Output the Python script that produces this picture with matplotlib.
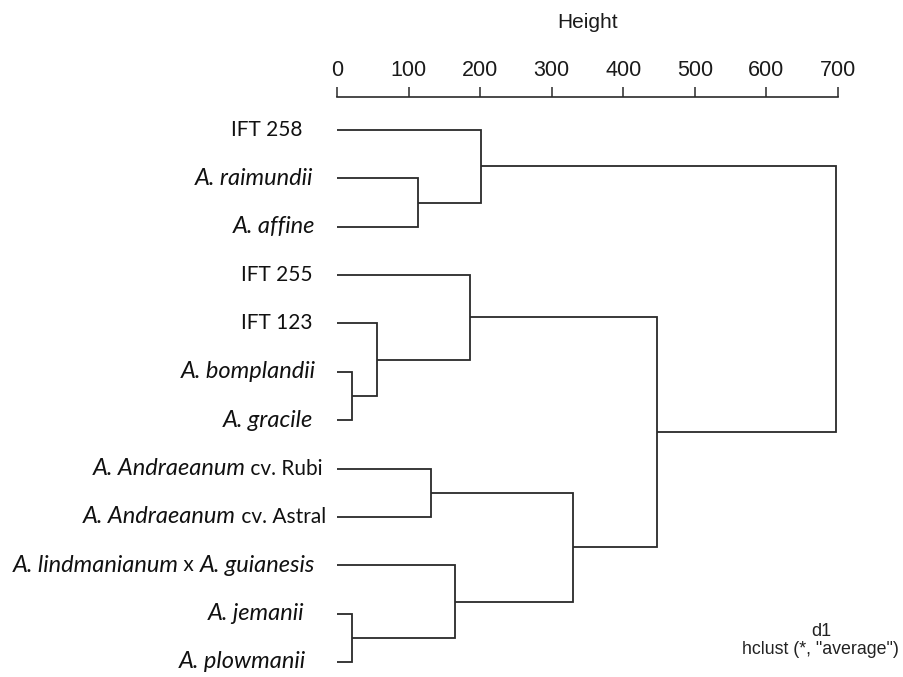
import matplotlib
matplotlib.use("Agg")
import matplotlib.pyplot as plt
from matplotlib.transforms import offset_copy

# ---- data ----
# leaf labels (top to bottom), each as list of (text, italic) segments
leaf_labels = [
    [("IFT 258", False)],
    [("A. raimundii", True)],
    [("A. affine", True)],
    [("IFT 255", False)],
    [("IFT 123", False)],
    [("A. bomplandii", True)],
    [("A. gracile", True)],
    [("A. Andraeanum", True), (" cv. Rubi", False)],
    [("A. Andraeanum", True), (" cv. Astral", False)],
    [("A. lindmanianum", True), (" x ", False), ("A. guianesis", True)],
    [("A. jemanii", True)],
    [("A. plowmanii", True)],
]
# merges: (left child, right child, height); ids >= 12 refer to earlier merges
merge_left = [1, 0, 5, 4, 3, 7, 10, 9, 17, 16, 13]
merge_right = [2, 12, 6, 14, 15, 8, 11, 18, 19, 20, 21]
merge_height = [113, 201, 21, 56, 186, 131, 21, 165, 330, 447, 697]
height_ticks = [0, 100, 200, 300, 400, 500, 600, 700]

# style: gap (px) between each label's right end and its leaf line
label_gap_px = [32, 21, 19, 21, 21, 18, 21, 11, 8, 19, 30, 28]

W, H = 904, 677
fig = plt.figure(figsize=(W / 100, H / 100), dpi=100)
ax = fig.add_axes([337 / W, 0.0, (838 - 337) / W, 1 - 97 / H])

n = len(leaf_labels)
pos = {i: (0.0, float(i)) for i in range(n)}  # node -> (height, y)
lc = "#2a2a2a"
lw = 1.3
for k, (a, b, h) in enumerate(zip(merge_left, merge_right, merge_height)):
    ha_, ya = pos[a]
    hb_, yb = pos[b]
    ax.plot([ha_, h, h, hb_], [ya, ya, yb, yb], color=lc, lw=lw,
            solid_joinstyle="miter", solid_capstyle="butt")
    pos[n + k] = (h, (ya + yb) / 2)

sp = 48.36
ax.set_ylim((677 - 130) / sp, -(130 - 97) / sp)
ax.set_xlim(0, 700)

for s in ["left", "right", "bottom"]:
    ax.spines[s].set_visible(False)
ax.spines["top"].set_bounds(0, 700)
ax.spines["top"].set_color(lc)
ax.spines["top"].set_linewidth(1.2)
ax.xaxis.tick_top()
ax.set_xticks(height_ticks)
ax.tick_params(axis="x", direction="out", length=7.5, width=1.1, color=lc,
               pad=4, labelsize=15.5, labelcolor="#1a1a1a")
for t in ax.get_xticklabels():
    t.set_family("Liberation Sans")
ax.set_yticks([])
ax.xaxis.set_label_position("top")
ax.set_xlabel("Height", fontsize=15, family="Liberation Sans",
              labelpad=23, color="#1a1a1a")
ax.patch.set_visible(False)

# leaf labels, right-aligned, built from segments
renderer = fig.canvas.get_renderer()
fs_reg, fs_it = 15, 17
for i, segs in enumerate(leaf_labels):
    off_pts = -(label_gap_px[i] + 3) * 72 / fig.dpi
    for txt, it in reversed(segs):
        tr = offset_copy(ax.transData, fig=fig, x=off_pts, y=0, units="points")
        t = ax.text(0, i, txt, transform=tr, ha="right", va="center",
                    fontsize=fs_it if it else fs_reg, family="Lato",
                    style="italic" if it else "normal", color="#111111",
                    clip_on=False)
        bb = t.get_window_extent(renderer=renderer)
        off_pts -= bb.width * 72 / fig.dpi

fig.text(821 / W, 1 - 632 / H, "d1", ha="center", va="center",
         fontsize=13, family="Liberation Sans", color="#222222")
fig.text(820 / W, 1 - 650 / H, "hclust (*, \"average\")", ha="center",
         va="center", fontsize=12.8, family="Liberation Sans", color="#222222")

fig.savefig("out.png", dpi=100)
